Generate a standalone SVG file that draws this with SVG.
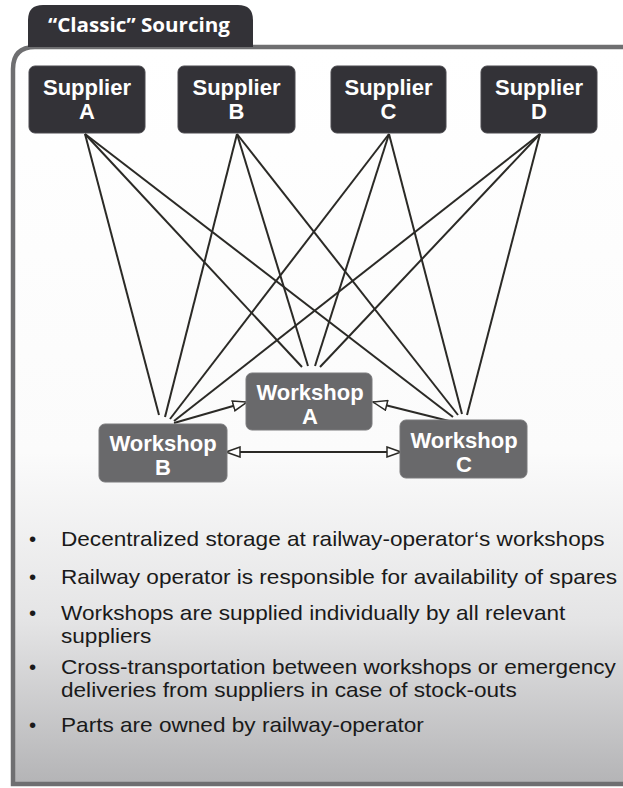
<svg xmlns="http://www.w3.org/2000/svg" width="623" height="788" viewBox="0 0 623 788">
<defs>
<linearGradient id="panelGrad" x1="0" y1="0" x2="0" y2="1">
<stop offset="0" stop-color="#ffffff"/>
<stop offset="0.55" stop-color="#fbfbfb"/>
<stop offset="0.78" stop-color="#e4e4e5"/>
<stop offset="1" stop-color="#b4b4b6"/>
</linearGradient>
<marker id="openArrow" markerUnits="userSpaceOnUse" viewBox="0 0 16 12" refX="15" refY="6" markerWidth="16" markerHeight="12" orient="auto-start-reverse">
<path d="M1,1 L15,6 L1,11 Z" fill="#ffffff" stroke="#2b2a26" stroke-width="1.5" stroke-linejoin="miter"/>
</marker>
<style>
.sup rect{fill:#333237;stroke:#4a494e;stroke-width:1}
.ws rect{fill:#69696b;stroke:#7a7a7c;stroke-width:1}
.lbl{font-family:"Liberation Sans",Arial,sans-serif;font-weight:bold;font-size:22px;fill:#ffffff;text-anchor:middle}
.edge{stroke:#2b2a26;stroke-width:2;fill:none}
.bul{font-family:"Liberation Sans",Arial,sans-serif;font-size:20.5px;fill:#1a1a1a}
</style>
</defs>

<g id="panel">
<path d="M13,784 L13,69 Q13,47 35,47 L640,47 L640,784 Z" fill="url(#panelGrad)" stroke="#6f6f71" stroke-width="4.5"/>
</g>

<g id="tab">
<path d="M28,47 L28,20 Q28,5 43,5 L238,5 Q253,5 253,20 L253,47 Z" fill="#333237"/>
<text x="48" y="32" font-family="'Open Sans','Liberation Sans',sans-serif" font-weight="bold" font-size="19" fill="#ffffff" textLength="182" lengthAdjust="spacingAndGlyphs">“Classic” Sourcing</text>
</g>

<g id="connectors">
<line class="edge" x1="85" y1="134" x2="159" y2="415"/>
<line class="edge" x1="85" y1="134" x2="302" y2="367"/>
<line class="edge" x1="85" y1="134" x2="453" y2="417"/>
<line class="edge" x1="237" y1="134" x2="165" y2="417"/>
<line class="edge" x1="237" y1="134" x2="308" y2="366"/>
<line class="edge" x1="237" y1="134" x2="458" y2="415"/>
<line class="edge" x1="389" y1="134" x2="170" y2="419"/>
<line class="edge" x1="389" y1="134" x2="315" y2="366"/>
<line class="edge" x1="389" y1="134" x2="462" y2="414"/>
<line class="edge" x1="540" y1="134" x2="174" y2="421"/>
<line class="edge" x1="540" y1="134" x2="320" y2="367"/>
<line class="edge" x1="540" y1="134" x2="467" y2="415"/>
<line class="edge" x1="174" y1="423" x2="247" y2="402" marker-end="url(#openArrow)"/>
<line class="edge" x1="453" y1="422" x2="373" y2="402" marker-end="url(#openArrow)"/>
<line class="edge" x1="226" y1="452" x2="401" y2="452" marker-start="url(#openArrow)" marker-end="url(#openArrow)"/>
</g>

<g id="supplierA" class="sup">
<rect x="29" y="66" width="116" height="67" rx="6"/>
<text class="lbl" x="87" y="95">Supplier</text>
<text class="lbl" x="87" y="119">A</text>
</g>
<g id="supplierB" class="sup">
<rect x="178" y="66" width="117" height="67" rx="6"/>
<text class="lbl" x="236.5" y="95">Supplier</text>
<text class="lbl" x="236.5" y="119">B</text>
</g>
<g id="supplierC" class="sup">
<rect x="331" y="66" width="115" height="67" rx="6"/>
<text class="lbl" x="388.5" y="95">Supplier</text>
<text class="lbl" x="388.5" y="119">C</text>
</g>
<g id="supplierD" class="sup">
<rect x="481" y="66" width="116" height="67" rx="6"/>
<text class="lbl" x="539" y="95">Supplier</text>
<text class="lbl" x="539" y="119">D</text>
</g>

<g id="workshopA" class="ws">
<rect x="246" y="373" width="126" height="57" rx="6"/>
<text class="lbl" x="310" y="400">Workshop</text>
<text class="lbl" x="310" y="424">A</text>
</g>
<g id="workshopB" class="ws">
<rect x="99" y="424" width="128" height="58" rx="6"/>
<text class="lbl" x="163" y="451">Workshop</text>
<text class="lbl" x="163" y="475">B</text>
</g>
<g id="workshopC" class="ws">
<rect x="400" y="420" width="127" height="58" rx="6"/>
<text class="lbl" x="464" y="448">Workshop</text>
<text class="lbl" x="464" y="472">C</text>
</g>

<g id="bullets">
<text class="bul" x="29" y="546">•</text>
<text class="bul" x="29" y="584">•</text>
<text class="bul" x="29" y="620">•</text>
<text class="bul" x="29" y="674">•</text>
<text class="bul" x="29" y="732">•</text>
<g transform="translate(61,0) scale(1.1025,1)">
<text class="bul" x="0" y="546">Decentralized storage at railway-operator‘s workshops</text>
<text class="bul" x="0" y="584">Railway operator is responsible for availability of spares</text>
<text class="bul" x="0" y="620">Workshops are supplied individually by all relevant</text>
<text class="bul" x="0" y="643">suppliers</text>
<text class="bul" x="0" y="674">Cross-transportation between workshops or emergency</text>
<text class="bul" x="0" y="697">deliveries from suppliers in case of stock-outs</text>
<text class="bul" x="0" y="732">Parts are owned by railway-operator</text>
</g>
</g>
</svg>
